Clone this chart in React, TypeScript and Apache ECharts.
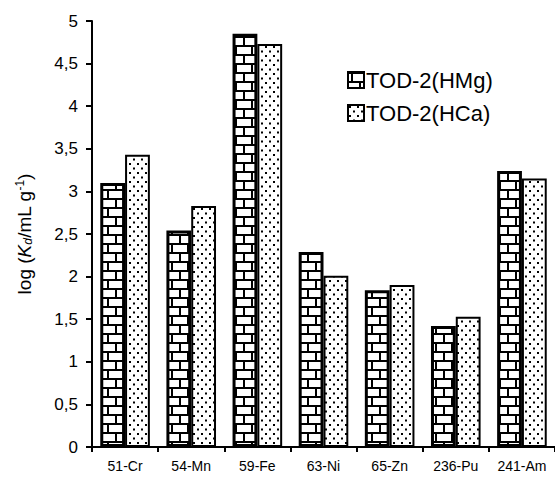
import React, { useEffect, useRef } from "react";
import * as echarts from "echarts";

const categories = ["51-Cr", "54-Mn", "59-Fe", "63-Ni", "65-Zn", "236-Pu", "241-Am"];
const seriesNames = ["TOD-2(HMg)", "TOD-2(HCa)"];
const hmgValues = [3.10, 2.54, 4.85, 2.29, 1.84, 1.42, 3.24];
const hcaValues = [3.43, 2.83, 4.73, 2.01, 1.90, 1.53, 3.15];
const yTicks = [0, 0.5, 1, 1.5, 2, 2.5, 3, 3.5, 4, 4.5, 5];

function brickCanvas() {
  const c = document.createElement("canvas");
  c.width = 16;
  c.height = 18;
  const g = c.getContext("2d")!;
  g.fillStyle = "#fff";
  g.fillRect(0, 0, 16, 18);
  g.fillStyle = "#000";
  g.fillRect(0, 0, 16, 2);
  g.fillRect(0, 9, 16, 2);
  g.fillRect(3, 0, 2, 9);
  g.fillRect(11, 9, 2, 9);
  return c;
}

function dotCanvas() {
  const c = document.createElement("canvas");
  c.width = 8;
  c.height = 9;
  const g = c.getContext("2d")!;
  g.fillStyle = "#fff";
  g.fillRect(0, 0, 8, 9);
  g.fillStyle = "#000";
  g.fillRect(1, 1, 2, 2);
  g.fillRect(5, 5.5, 2, 2);
  return c;
}

export default function App() {
  const ref = useRef<HTMLDivElement>(null);
  useEffect(() => {
    if (!ref.current) return;
    const chart = echarts.init(ref.current, null, { renderer: "svg" });
    const brick = { image: brickCanvas(), repeat: "repeat", imageWidth: 16, imageHeight: 18 };
    const dots = { image: dotCanvas(), repeat: "repeat", imageWidth: 8, imageHeight: 9 };
    const font = "'Liberation Sans', Arial, sans-serif";
    chart.setOption({
      animation: false,
      backgroundColor: "#fff",
      textStyle: { fontFamily: font, color: "#000" },
      grid: { left: 92, right: -9, top: 21, bottom: 32 },
      legend: {
        orient: "vertical",
        left: 342,
        top: 64,
        itemWidth: 16,
        itemHeight: 16,
        itemGap: 11,
        icon: "rect",
        textStyle: { fontSize: 22, fontFamily: font, color: "#000", padding: [0, 0, 0, -3] },
        data: seriesNames,
      },
      xAxis: {
        type: "category",
        data: categories,
        axisLine: { lineStyle: { color: "#000", width: 2 } },
        axisTick: { show: true, alignWithLabel: false, length: 5, lineStyle: { color: "#000", width: 2 } },
        axisLabel: { fontSize: 14, color: "#000", margin: 12, fontFamily: font },
      },
      yAxis: {
        type: "value",
        min: 0,
        max: 5,
        interval: 0.5,
        axisLine: { show: true, lineStyle: { color: "#000", width: 2 } },
        axisTick: { show: true, length: 6, lineStyle: { color: "#000", width: 2 } },
        splitLine: { show: false },
        axisLabel: {
          fontSize: 17,
          color: "#000",
          margin: 14,
          fontFamily: font,
          formatter: (v: number) => (yTicks.includes(v) ? String(v).replace(".", ",") : ""),
        },
        name: "{a|log (}{k|K}{s|d}{a|/mL g}{p|-1}{a|)}",
        nameLocation: "middle",
        nameGap: 58,
        nameRotate: 90,
        nameTextStyle: {
          rich: {
            a: { fontSize: 19, fontFamily: font, color: "#000" },
            k: { fontSize: 19, fontFamily: font, color: "#000", fontStyle: "italic" },
            s: { fontSize: 12, fontFamily: font, color: "#000", fontStyle: "italic", verticalAlign: "bottom", padding: [8, 0, 0, 0] },
            p: { fontSize: 12, fontFamily: font, color: "#000", verticalAlign: "top", padding: [0, 0, 8, 0] },
          },
        },
      },
      series: [
        {
          name: seriesNames[0],
          type: "bar",
          data: hmgValues,
          barGap: "0%",
          barCategoryGap: "25%",
          itemStyle: { color: brick, borderColor: "#000", borderWidth: 3 },
        },
        {
          name: seriesNames[1],
          type: "bar",
          data: hcaValues,
          barGap: "0%",
          barCategoryGap: "25%",
          itemStyle: { color: dots, borderColor: "#000", borderWidth: 2 },
        },
      ],
    });
    return () => chart.dispose();
  }, []);
  return (
    <div
      ref={ref}
      style={{ position: "fixed", left: 0, top: 0, width: 555, height: 479 }}
    />
  );
}
